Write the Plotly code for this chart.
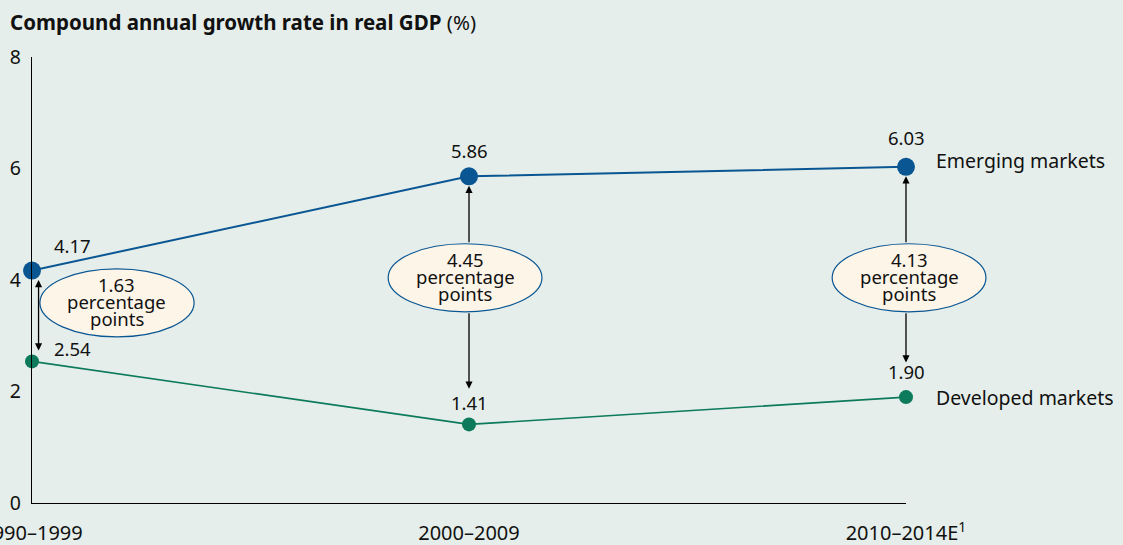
import plotly.graph_objects as go

periods = ["1990–1999", "2000–2009", "2010–2014E<sup>1</sup>"]
emerging = [4.17, 5.86, 6.03]
developed = [2.54, 1.41, 1.90]
gaps = ["1.63", "4.45", "4.13"]
series_names = ["Emerging markets", "Developed markets"]
title_bold = "Compound annual growth rate in real GDP"
title_unit = " (%)"
y_ticks = [0, 2, 4, 6, 8]

BLUE = "#0a5693"
GREEN = "#0c7a5b"
BG = "#e5eeea"
FONT = "Noto Sans"
INK = "#111111"

X_MAX = 2.0
Y_MAX = 8.0

xs = list(range(len(periods)))

fig = go.Figure()
fig.add_trace(go.Scatter(x=xs, y=emerging, mode="lines+markers",
                         line=dict(color=BLUE, width=2),
                         marker=dict(color=BLUE, size=18), cliponaxis=False,
                         hoverinfo="skip"))
fig.add_trace(go.Scatter(x=xs, y=developed, mode="lines+markers",
                         line=dict(color=GREEN, width=1.6),
                         marker=dict(color=GREEN, size=14), cliponaxis=False,
                         hoverinfo="skip"))

LBL = 18.5
ann = []
# value labels
e_off = [(20, 25, "left"), (0, 26, "center"), (0, 29, "center")]
d_off = [(20, 13, "left"), (0, 22, "center"), (0, 26, "center")]
for i in xs:
    dx, dy, xa = e_off[i]
    ann.append(dict(x=i, y=emerging[i], text=f"{emerging[i]:.2f}", showarrow=False,
                    xshift=dx, yshift=dy, xanchor=xa, yanchor="middle",
                    font=dict(size=LBL)))
    dx, dy, xa = d_off[i]
    ann.append(dict(x=i, y=developed[i], text=f"{developed[i]:.2f}", showarrow=False,
                    xshift=dx, yshift=dy, xanchor=xa, yanchor="middle",
                    font=dict(size=LBL)))

# series labels
ann.append(dict(x=xs[-1], y=emerging[-1], text=series_names[0], showarrow=False,
                xanchor="left", xshift=28, yshift=6, yanchor="middle",
                font=dict(size=19.5)))
ann.append(dict(x=xs[-1], y=developed[-1], text=series_names[1], showarrow=False,
                xanchor="left", xshift=28, yshift=0, yanchor="middle",
                font=dict(size=19.5)))

# ellipses geometry (data coords)
ell = [
    dict(x0=0.018, x1=0.371, y0=2.98, y1=4.20),
    dict(x0=0.815, x1=1.167, y0=3.43, y1=4.65),
    dict(x0=1.831, x1=2.183, y0=3.43, y1=4.65),
]
shapes = []
for i, e in enumerate(ell):
    shapes.append(dict(type="circle", xref="paper", yref="paper", layer="above",
                       fillcolor="#fdf5e8", line=dict(color=BLUE, width=1.2),
                       x0=e["x0"] / X_MAX, x1=e["x1"] / X_MAX,
                       y0=e["y0"] / Y_MAX, y1=e["y1"] / Y_MAX))
    cx = (e["x0"] + e["x1"]) / 2 / X_MAX
    cy = (e["y0"] + e["y1"]) / 2 / Y_MAX
    for txt, sh in [(gaps[i], 17), ("percentage", 0), ("points", -17)]:
        ann.append(dict(xref="paper", yref="paper", x=cx, y=cy, text=txt,
                        showarrow=False, yshift=sh + 1,
                        xanchor="center", yanchor="middle", font=dict(size=LBL)))

arrow_style = dict(showarrow=True, arrowhead=2, arrowsize=1.1, arrowwidth=1.3,
                   arrowcolor="#000000", text="", axref="x", ayref="y")
# first: double-headed arrow left of ellipse
ann.append(dict(x=0.015, y=emerging[0] - 0.17, ax=0.015, ay=developed[0] + 0.17,
                arrowside="end+start", **arrow_style))
for i in (1, 2):
    e = ell[i]
    ann.append(dict(x=i, y=emerging[i] - 0.17, ax=i, ay=e["y1"], **arrow_style))
    ann.append(dict(x=i, y=developed[i] + (0.64 if i == 1 else 0.62), ax=i, ay=e["y0"], **arrow_style))

# title
ann.append(dict(xref="paper", yref="paper", x=-0.0275, y=1.0, yshift=35,
                xanchor="left", yanchor="middle", showarrow=False,
                text=f"<b>{title_bold}</b>{title_unit}",
                font=dict(size=20.5, color=INK, family=FONT)))

fig.update_layout(
    width=1123, height=545,
    margin=dict(l=32, r=217, t=57, b=42, autoexpand=False),
    paper_bgcolor=BG, plot_bgcolor=BG,
    showlegend=False,
    font=dict(family=FONT, size=18, color=INK),
    annotations=ann, shapes=shapes,
    xaxis=dict(range=[0, X_MAX], tickvals=xs, ticktext=periods, showgrid=False,
               zeroline=False, showline=True, linecolor="#000000", linewidth=1.2,
               ticks="", ticklabelstandoff=12, tickfont=dict(size=20),
               ticklabeloverflow="allow", automargin=False),
    yaxis=dict(range=[0, Y_MAX], tickvals=y_ticks, showgrid=False, zeroline=False,
               showline=True, linecolor="#000000", linewidth=1.2, ticks="",
               ticklabelstandoff=6, tickfont=dict(size=19.5), automargin=False),
)

fig.write_html("out.html", config={"displayModeBar": False},
               post_script="document.body.style.margin='0';document.body.style.overflow='hidden';")
